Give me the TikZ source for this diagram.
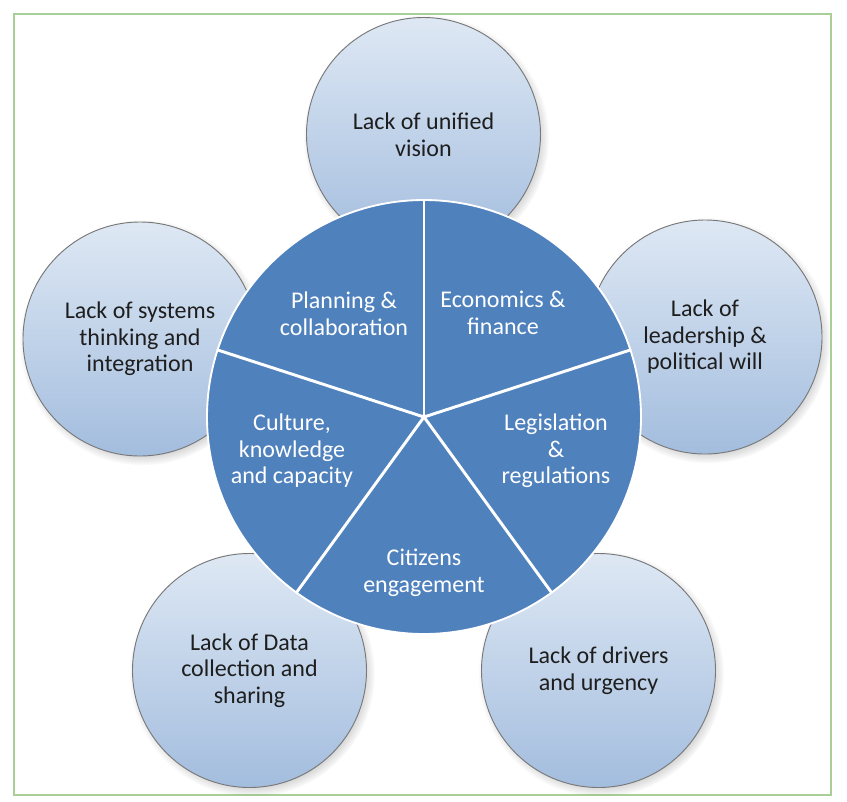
\documentclass[tikz,border=0pt]{standalone}
\usepackage{fontspec}
\setmainfont{Carlito}
\usetikzlibrary{shadows}
\definecolor{pieblue}{RGB}{79,129,189}
\definecolor{ctop}{RGB}{222,232,244}
\definecolor{cbot}{RGB}{163,189,222}
\definecolor{cedge}{RGB}{120,120,120}
\definecolor{framegreen}{RGB}{168,208,150}
\definecolor{textdark}{RGB}{30,30,30}
\begin{document}
\begin{tikzpicture}[x=0.75pt,y=-0.75pt,
  lbl/.style={font=\fontsize{18}{19.9}\selectfont, align=center, inner sep=0pt},
  outer/.style={lbl, circle, minimum size=175.5pt, draw=cedge, line width=0.7pt,
    top color=ctop, bottom color=cbot, text=textdark,
    circular drop shadow={shadow xshift=1.8pt, shadow yshift=-2.4pt, shadow scale=1.05, opacity=0.55}},
  pienode/.style={circle, minimum size=325.5pt, fill=pieblue, draw=white, line width=1.4pt, inner sep=0pt},
  sepline/.style={draw=white, line width=2.2pt},
  pietext/.style={lbl, text=white},
  frameline/.style={draw=framegreen, line width=1pt}]
\useasboundingbox (0,0) rectangle (847,801);
\fill[white] (0,0) rectangle (847,801);
\draw[frameline] (14,14) rectangle (831,795);

% outer circles
\node[outer] (vision) at (423.5,134.5) {Lack of unified\\vision};
\node[outer] (leader) at (705,337) {Lack of\\leadership \&\\political will};
\node[outer] (systems) at (140,339) {Lack of systems\\thinking and\\integration};
\node[outer] (data) at (249.5,670.5) {Lack of Data\\collection and\\sharing};
\node[outer] (drivers) at (598.5,670.5) {Lack of drivers\\and urgency};

% central pie
\node[pienode] (pie) at (424,417) {};
\draw[sepline] (pie.center) -- (pie.90);
\draw[sepline] (pie.center) -- (pie.18);
\draw[sepline] (pie.center) -- (pie.-54);
\draw[sepline] (pie.center) -- (pie.-126);
\draw[sepline] (pie.center) -- (pie.162);

\node[pietext] (plan) at (344,314) {Planning \&\\collaboration};
\node[pietext] (econ) at (503,313) {Economics \&\\finance};
\node[pietext] (legis) at (556,451) {Legislation\\\&\\regulations};
\node[pietext] (cult) at (292,451) {Culture,\\knowledge\\and capacity};
\node[pietext] (citz) at (424,573) {Citizens\\engagement};
\end{tikzpicture}
\end{document}
